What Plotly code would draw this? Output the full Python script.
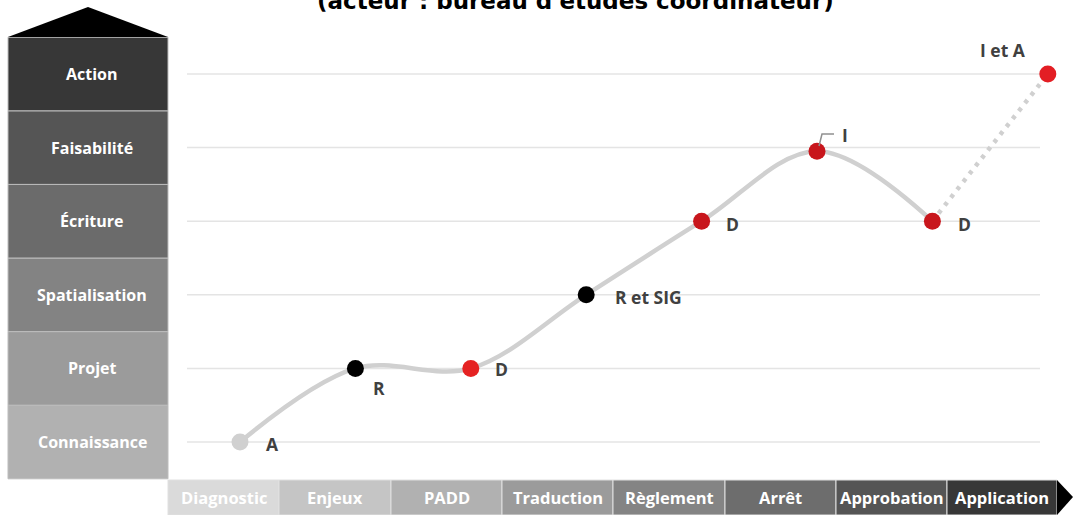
import plotly.graph_objects as go

W, H = 1073, 515

# ---- data ----
levels = ["Connaissance", "Projet", "Spatialisation", "Écriture", "Faisabilité", "Action"]
level_colors = ["#b1b1b1", "#9b9b9b", "#838383", "#6b6b6b", "#555555", "#373737"]
phases = ["Diagnostic", "Enjeux", "PADD", "Traduction", "Règlement", "Arrêt", "Approbation", "Application"]
phase_colors = ["#dadada", "#c5c5c5", "#b1b1b1", "#9b9b9b", "#848484", "#6d6d6d", "#555555", "#373737"]
step_index = [0, 1, 2, 3, 4, 5, 6, 7]
step_level = [0, 1, 1, 2, 3, 3.95, 3, 5]
step_labels = ["A", "R", "D", "R et SIG", "D", "I", "D", "I et A"]
step_colors = ["#d0d0d0", "#000000", "#e52222", "#000000", "#c8161c", "#c8161c", "#c8161c", "#e31e24"]
title_text = "(acteur : bureau d'études coordinateur)"

def xp(px):
    return px / W

def yp(py):
    return 1 - py / H

fig = go.Figure()

# solid spline through first 7 steps
fig.add_trace(go.Scatter(
    x=step_index[:7], y=step_level[:7], mode="lines",
    line=dict(color="#d0d0d0", width=4.5, shape="spline", smoothing=1.0),
    hoverinfo="skip", showlegend=False))
# dotted last segment
fig.add_trace(go.Scatter(
    x=step_index[6:], y=step_level[6:], mode="lines",
    line=dict(color="#d0d0d0", width=4.5, dash="4px,6px"),
    hoverinfo="skip", showlegend=False))
# markers
fig.add_trace(go.Scatter(
    x=step_index, y=step_level, mode="markers",
    marker=dict(size=17, color=step_colors, line=dict(width=0)),
    hoverinfo="skip", showlegend=False))

shapes = []
annotations = []

# gridlines
for i, _ in enumerate(levels):
    shapes.append(dict(type="line", xref="paper", yref="y", x0=xp(187), x1=xp(1040),
                       y0=i, y1=i, line=dict(color="#e4e4e4", width=1.5), layer="below"))

# left column boxes
for i, (lab, col) in enumerate(zip(levels, level_colors)):
    shapes.append(dict(type="rect", xref="paper", yref="y", x0=xp(8), x1=xp(168),
                       y0=i - 0.5, y1=i + 0.5, fillcolor=col,
                       line=dict(color="#bdbdbd", width=1), layer="below"))
    annotations.append(dict(xref="paper", yref="y", x=xp(92), y=i, text="<b>%s</b>" % lab,
                            xanchor="center", yanchor="middle", showarrow=False,
                            font=dict(family="Open Sans", size=16, color="white")))
# top triangle
shapes.append(dict(type="path", xref="paper", yref="paper",
                   path="M %f %f L %f %f L %f %f Z" % (xp(8), yp(37), xp(88), yp(7), xp(168), yp(37)),
                   fillcolor="#000000", line=dict(width=0)))

# bottom phase bar
bounds = [168, 279, 391, 502, 613, 725, 836, 947, 1057]
for i, (lab, col) in enumerate(zip(phases, phase_colors)):
    shapes.append(dict(type="rect", xref="paper", yref="paper", x0=xp(bounds[i]), x1=xp(bounds[i + 1]),
                       y0=yp(515), y1=yp(480), fillcolor=col,
                       line=dict(color="#e0e0e0", width=1), layer="below"))
    annotations.append(dict(xref="paper", yref="paper", x=xp((bounds[i] + bounds[i + 1]) / 2), y=yp(497),
                            xanchor="center", yanchor="middle",
                            text="<b>%s</b>" % lab, showarrow=False,
                            font=dict(family="Open Sans", size=16.5, color="white")))
shapes.append(dict(type="path", xref="paper", yref="paper",
                   path="M %f %f L %f %f L %f %f Z" % (xp(1057), yp(480), xp(1073), yp(497), xp(1057), yp(515)),
                   fillcolor="#000000", line=dict(width=0)))

# leader line for "I" (elbow)
shapes.append(dict(type="path", xref="paper", yref="paper",
                   path="M %f %f L %f %f L %f %f" % (xp(819), yp(146), xp(822), yp(134), xp(834), yp(134)),
                   line=dict(color="#909090", width=1.5)))

# point labels
label_offsets = [(32, -2), (24, -20), (31, -1), (62, -2), (31, -3), (28, 16), (32, -3), (-45, 24)]
for i, (x, y, lab) in enumerate(zip(step_index, step_level, step_labels)):
    dx, dy = label_offsets[i]
    annotations.append(dict(xref="x", yref="y", x=x, y=y, text="<b>%s</b>" % lab, showarrow=False,
                            xanchor="center", yanchor="middle",
                            xshift=dx, yshift=dy,
                            font=dict(family="Open Sans", size=17.5, color="#404040")))

# title (clipped at top, as in reference)
annotations.append(dict(xref="paper", yref="paper", x=xp(575), y=yp(1), yanchor="middle", xanchor="center",
                        text="<b>%s</b>" % title_text, showarrow=False,
                        font=dict(family="DejaVu Sans", size=23, color="#000000")))

fig.update_layout(
    width=W, height=H, margin=dict(l=0, r=0, t=0, b=0),
    paper_bgcolor="white", plot_bgcolor="white",
    xaxis=dict(range=[-240 / 115.4, 833 / 115.4], visible=False, fixedrange=True),
    yaxis=dict(range=[(442 - 515) / 73.6, 442 / 73.6], visible=False, fixedrange=True),
    shapes=shapes, annotations=annotations,
)

fig.write_html("out.html", config={"displayModeBar": False},
               post_script="document.body.style.margin='0';document.body.style.overflow='hidden';")
